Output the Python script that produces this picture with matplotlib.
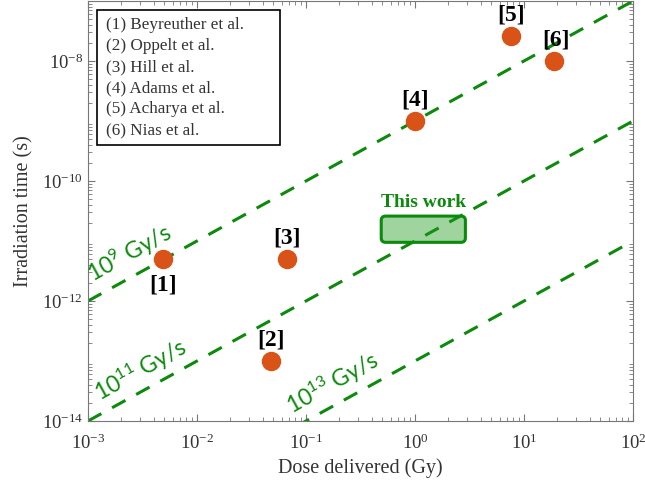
import matplotlib
matplotlib.use('Agg')
import matplotlib.pyplot as plt
import numpy as np
from matplotlib.patches import FancyBboxPatch, Rectangle

# Data
refs = ['[1]', '[2]', '[3]', '[4]', '[5]', '[6]']
dose = [0.0049, 0.048, 0.067, 1.0, 7.6, 19.0]
time_s = [5e-12, 1e-13, 5e-12, 1e-9, 2.6e-8, 1e-8]
authors = ['Beyreuther et al.', 'Oppelt et al.', 'Hill et al.',
           'Adams et al.', 'Acharya et al.', 'Nias et al.']
rates = [1e9, 1e11, 1e13]
rate_labels = [r'$\mathsf{10^{9}}$ Gy/s', r'$\mathsf{10^{11}}$ Gy/s',
               r'$\mathsf{10^{13}}$ Gy/s']
this_dose = (0.49, 2.9)
this_time = (9.5e-12, 2.6e-11)

plt.rcParams['font.family'] = ['Liberation Serif', 'DejaVu Serif']
plt.rcParams['mathtext.fontset'] = 'custom'
plt.rcParams['mathtext.rm'] = 'Liberation Serif'
plt.rcParams['mathtext.it'] = 'Liberation Serif:italic'
plt.rcParams['mathtext.bf'] = 'Liberation Serif:bold'
plt.rcParams['mathtext.sf'] = 'Lato'
plt.rcParams['axes.unicode_minus'] = False

green = '#0c8a0c'
orange = '#d95319'

fig = plt.figure(figsize=(6.45, 4.92), dpi=100)
ax = fig.add_axes([0.1364, 0.1443, 0.845, 0.8537])
ax.set_xscale('log')
ax.set_yscale('log')
ax.set_xlim(1e-3, 1e2)
ax.set_ylim(1e-14, 1e-7)

# constant dose-rate lines
xs = np.logspace(-3, 2, 50)
for r in rates:
    ax.plot(xs, xs / r, '--', color=green, lw=2.2, dashes=(5, 4), zorder=2)

# line labels, rotated along the lines
lab_pos = [(1.12e-3, 2.0e-12), (1.29e-3, 2.07e-14), (0.0745, 1.26e-14)]
for (lx, ly), txt in zip(lab_pos, rate_labels):
    ax.text(lx, ly, txt, color=green, fontsize=16.5, rotation=29,
            family=['Lato', 'DejaVu Sans'], ha='left', va='baseline',
            rotation_mode='anchor')

# "This work" box, drawn in axes fractions so the corners stay round
x0, x1 = this_dose
y0, y1 = this_time
ax0 = (np.log10(x0) + 3) / 5
ax1 = (np.log10(x1) + 3) / 5
ay0 = (np.log10(y0) + 14) / 7
ay1 = (np.log10(y1) + 14) / 7
box = FancyBboxPatch((ax0, ay0), ax1 - ax0, ay1 - ay0,
                     boxstyle='round,pad=0,rounding_size=0.008',
                     mutation_aspect=545 / 420,
                     facecolor=(0.1, 0.6, 0.1, 0.42), edgecolor=green,
                     lw=2.2, transform=ax.transAxes, zorder=3)
ax.add_patch(box)
ax.text(np.sqrt(x0 * x1), y1 * 1.22, 'This work', color=green, fontsize=14,
        fontweight='bold', ha='center', va='bottom')

# literature points
ax.plot(dose, time_s, 'o', color=orange, ms=13, zorder=5)
offsets = [(0, -19), (0, 15), (0, 15), (0, 15), (0, 15), (1, 15)]
for x, y, t, (dx, dy) in zip(dose, time_s, refs, offsets):
    ax.annotate(t, (x, y), xytext=(dx, dy), textcoords='offset points',
                ha='center', va='center', fontsize=17, fontweight='bold',
                zorder=6)

# legend-like box with the author list
ax.add_patch(Rectangle((0.0165, 0.657), 0.3355, 0.322, transform=ax.transAxes,
                       facecolor='white', edgecolor='black', lw=1.2, zorder=7))
for i, a in enumerate(authors):
    ax.text(0.033, 0.943 - i * 0.05, '(%d) %s' % (i + 1, a),
            transform=ax.transAxes, fontsize=12.3, va='center', ha='left',
            color='#333333', zorder=8)

ax.set_xlabel('Dose delivered (Gy)', fontsize=14.5, color='#333333', labelpad=4)
ax.set_ylabel('Irradiation time (s)', fontsize=14.5, color='#333333', labelpad=6)
ax.set_yticks([1e-14, 1e-12, 1e-10, 1e-8])
ax.tick_params(which='both', direction='in', top=True, right=True,
               colors='#777777', labelcolor='#333333', labelsize=13.5)
ax.tick_params(axis='x', pad=9)
ax.tick_params(which='major', length=5)
ax.tick_params(which='minor', length=3)
ax.yaxis.set_minor_locator(matplotlib.ticker.LogLocator(base=10, subs=np.arange(2, 10), numticks=20))
for s in ax.spines.values():
    s.set_color('#777777')

fig.savefig('out.png', dpi=100)
